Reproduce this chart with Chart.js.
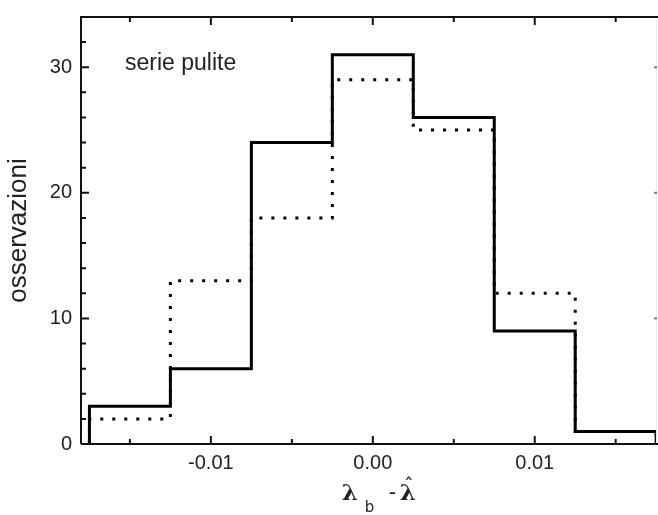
<!DOCTYPE html>
<html>
<head>
<meta charset="utf-8">
<script src="https://cdn.jsdelivr.net/npm/chart.js@4"></script>
<style>
  body { margin: 0; background: #fff; }
  canvas { display: block; }
</style>
</head>
<body>
<canvas id="histChart" width="658" height="515"></canvas>
<script>
// bin edges (lambda_b - lambda_hat) and counts per bin
const binEdges = [-0.0175, -0.0125, -0.0075, -0.0025, 0.0025, 0.0075, 0.0125, 0.0175];
const solidCounts = [3, 6, 24, 31, 26, 9, 1];
const dottedCounts = [2, 13, 18, 29, 25, 12, 1];

const xTickValues = [-0.01, 0, 0.01];
const xTickLabels = ['-0.01', '0.00', '0.01'];
const xMinorValues = [-0.015, -0.005, 0.005, 0.015];
const yTickValues = [0, 10, 20, 30];
const yTickLabels = ['0', '10', '20', '30'];
const yMinorValues = [2, 4, 6, 8, 12, 14, 16, 18, 22, 24, 26, 28, 32];

// histogram outline: up the left edge, across each bin, down at the end
function outline(counts) {
    const pts = [{ x: binEdges[0], y: 0 }];
    counts.forEach((c, i) => {
        pts.push({ x: binEdges[i], y: c });
        pts.push({ x: binEdges[i + 1], y: c });
    });
    pts.push({ x: binEdges[binEdges.length - 1], y: 0 });
    return pts;
}

const frame = {
    id: 'frame',
    afterDraw(chart) {
        const { ctx, chartArea: a, scales: { x, y } } = chart;
        ctx.save();
        // faint right axis
        ctx.strokeStyle = '#ececec';
        ctx.lineWidth = 1;
        ctx.beginPath();
        ctx.moveTo(a.right - 0.5, a.top);
        ctx.lineTo(a.right - 0.5, a.bottom);
        ctx.stroke();
        ctx.strokeStyle = '#777';
        ctx.lineWidth = 2;
        yTickValues.slice(1).forEach(v => {
            const py = y.getPixelForValue(v);
            ctx.beginPath();
            ctx.moveTo(a.right, py);
            ctx.lineTo(a.right - 3, py);
            ctx.stroke();
        });

        ctx.strokeStyle = '#111';
        ctx.lineWidth = 2;
        ctx.beginPath();
        ctx.moveTo(a.left, a.bottom);
        ctx.lineTo(a.left, a.top);
        ctx.lineTo(chart.width, a.top);
        ctx.moveTo(a.left, a.bottom);
        ctx.lineTo(chart.width, a.bottom);
        ctx.stroke();

        ctx.beginPath();
        const xt = (v, len) => {
            const px = x.getPixelForValue(v);
            ctx.moveTo(px, a.top); ctx.lineTo(px, a.top + len);
            ctx.moveTo(px, a.bottom); ctx.lineTo(px, a.bottom - len);
        };
        const yt = (v, len) => {
            const py = y.getPixelForValue(v);
            ctx.moveTo(a.left, py); ctx.lineTo(a.left + len, py);
        };
        xTickValues.forEach(v => xt(v, 8));
        xMinorValues.forEach(v => xt(v, 5));
        yTickValues.forEach(v => yt(v, 8));
        yMinorValues.forEach(v => yt(v, 5));
        ctx.stroke();

        // panel label
        ctx.fillStyle = '#222';
        ctx.font = '23px "Liberation Sans", Arial, sans-serif';
        ctx.textBaseline = 'alphabetic';
        ctx.textAlign = 'left';
        ctx.fillText('serie pulite', 125, 70);

        // x axis title: lambda_b - lambda hat
        const cx = x.getPixelForValue(0);
        ctx.font = 'bold 23px "DejaVu Serif", serif';
        ctx.fillText('λ', cx - 31, 500);
        ctx.font = '15px "DejaVu Sans", sans-serif';
        ctx.fillText('b', cx - 8, 512);
        ctx.font = '22px "Liberation Sans", Arial, sans-serif';
        ctx.fillText('-', cx + 16, 499);
        ctx.font = 'bold 23px "DejaVu Serif", serif';
        ctx.fillText('λ', cx + 27, 500);
        ctx.font = '20px "DejaVu Sans", sans-serif';
        ctx.fillText('ˆ', cx + 31, 492);
        ctx.restore();
    }
};

new Chart(document.getElementById('histChart').getContext('2d'), {
    type: 'line',
    data: {
        datasets: [{
            label: 'solid',
            data: outline(solidCounts),
            borderColor: '#000',
            borderWidth: 3,
            pointRadius: 0,
            fill: false,
            tension: 0
        }, {
            label: 'dotted',
            data: outline(dottedCounts),
            borderColor: '#000',
            borderWidth: 3,
            borderDash: [3, 9],
            pointRadius: 0,
            fill: false,
            tension: 0
        }]
    },
    options: {
        responsive: false,
        animation: false,
        layout: { padding: { top: 17, right: 1, left: 0, bottom: 0 } },
        plugins: { legend: { display: false }, tooltip: { enabled: false } },
        scales: {
            x: {
                type: 'linear',
                min: -0.01802,
                max: 0.01755,
                grid: { display: false, drawTicks: false },
                border: { display: false },
                afterBuildTicks: s => { s.ticks = xTickValues.map(v => ({ value: v })); },
                afterFit: s => { s.height = 71; s.paddingLeft = 0; s.paddingRight = 0; },
                ticks: {
                    autoSkip: false,
                    maxRotation: 0,
                    padding: 7,
                    color: '#222',
                    font: { family: '"Liberation Sans", Arial, sans-serif', size: 20 },
                    callback: (v) => xTickLabels[xTickValues.indexOf(v)]
                }
            },
            y: {
                min: 0,
                max: 34,
                grid: { display: false, drawTicks: false },
                border: { display: false },
                afterBuildTicks: s => { s.ticks = yTickValues.map(v => ({ value: v })); },
                afterFit: s => { s.width = 81; s.paddingTop = 0; s.paddingBottom = 0; },
                ticks: {
                    padding: 9,
                    color: '#222',
                    font: { family: '"Liberation Sans", Arial, sans-serif', size: 20 },
                    callback: (v) => yTickLabels[yTickValues.indexOf(v)]
                },
                title: {
                    display: true,
                    text: 'osservazioni',
                    color: '#222',
                    padding: { top: 3, bottom: 0 },
                    font: { family: '"Liberation Sans", Arial, sans-serif', size: 26 }
                }
            }
        }
    },
    plugins: [frame]
});
</script>
</body>
</html>
